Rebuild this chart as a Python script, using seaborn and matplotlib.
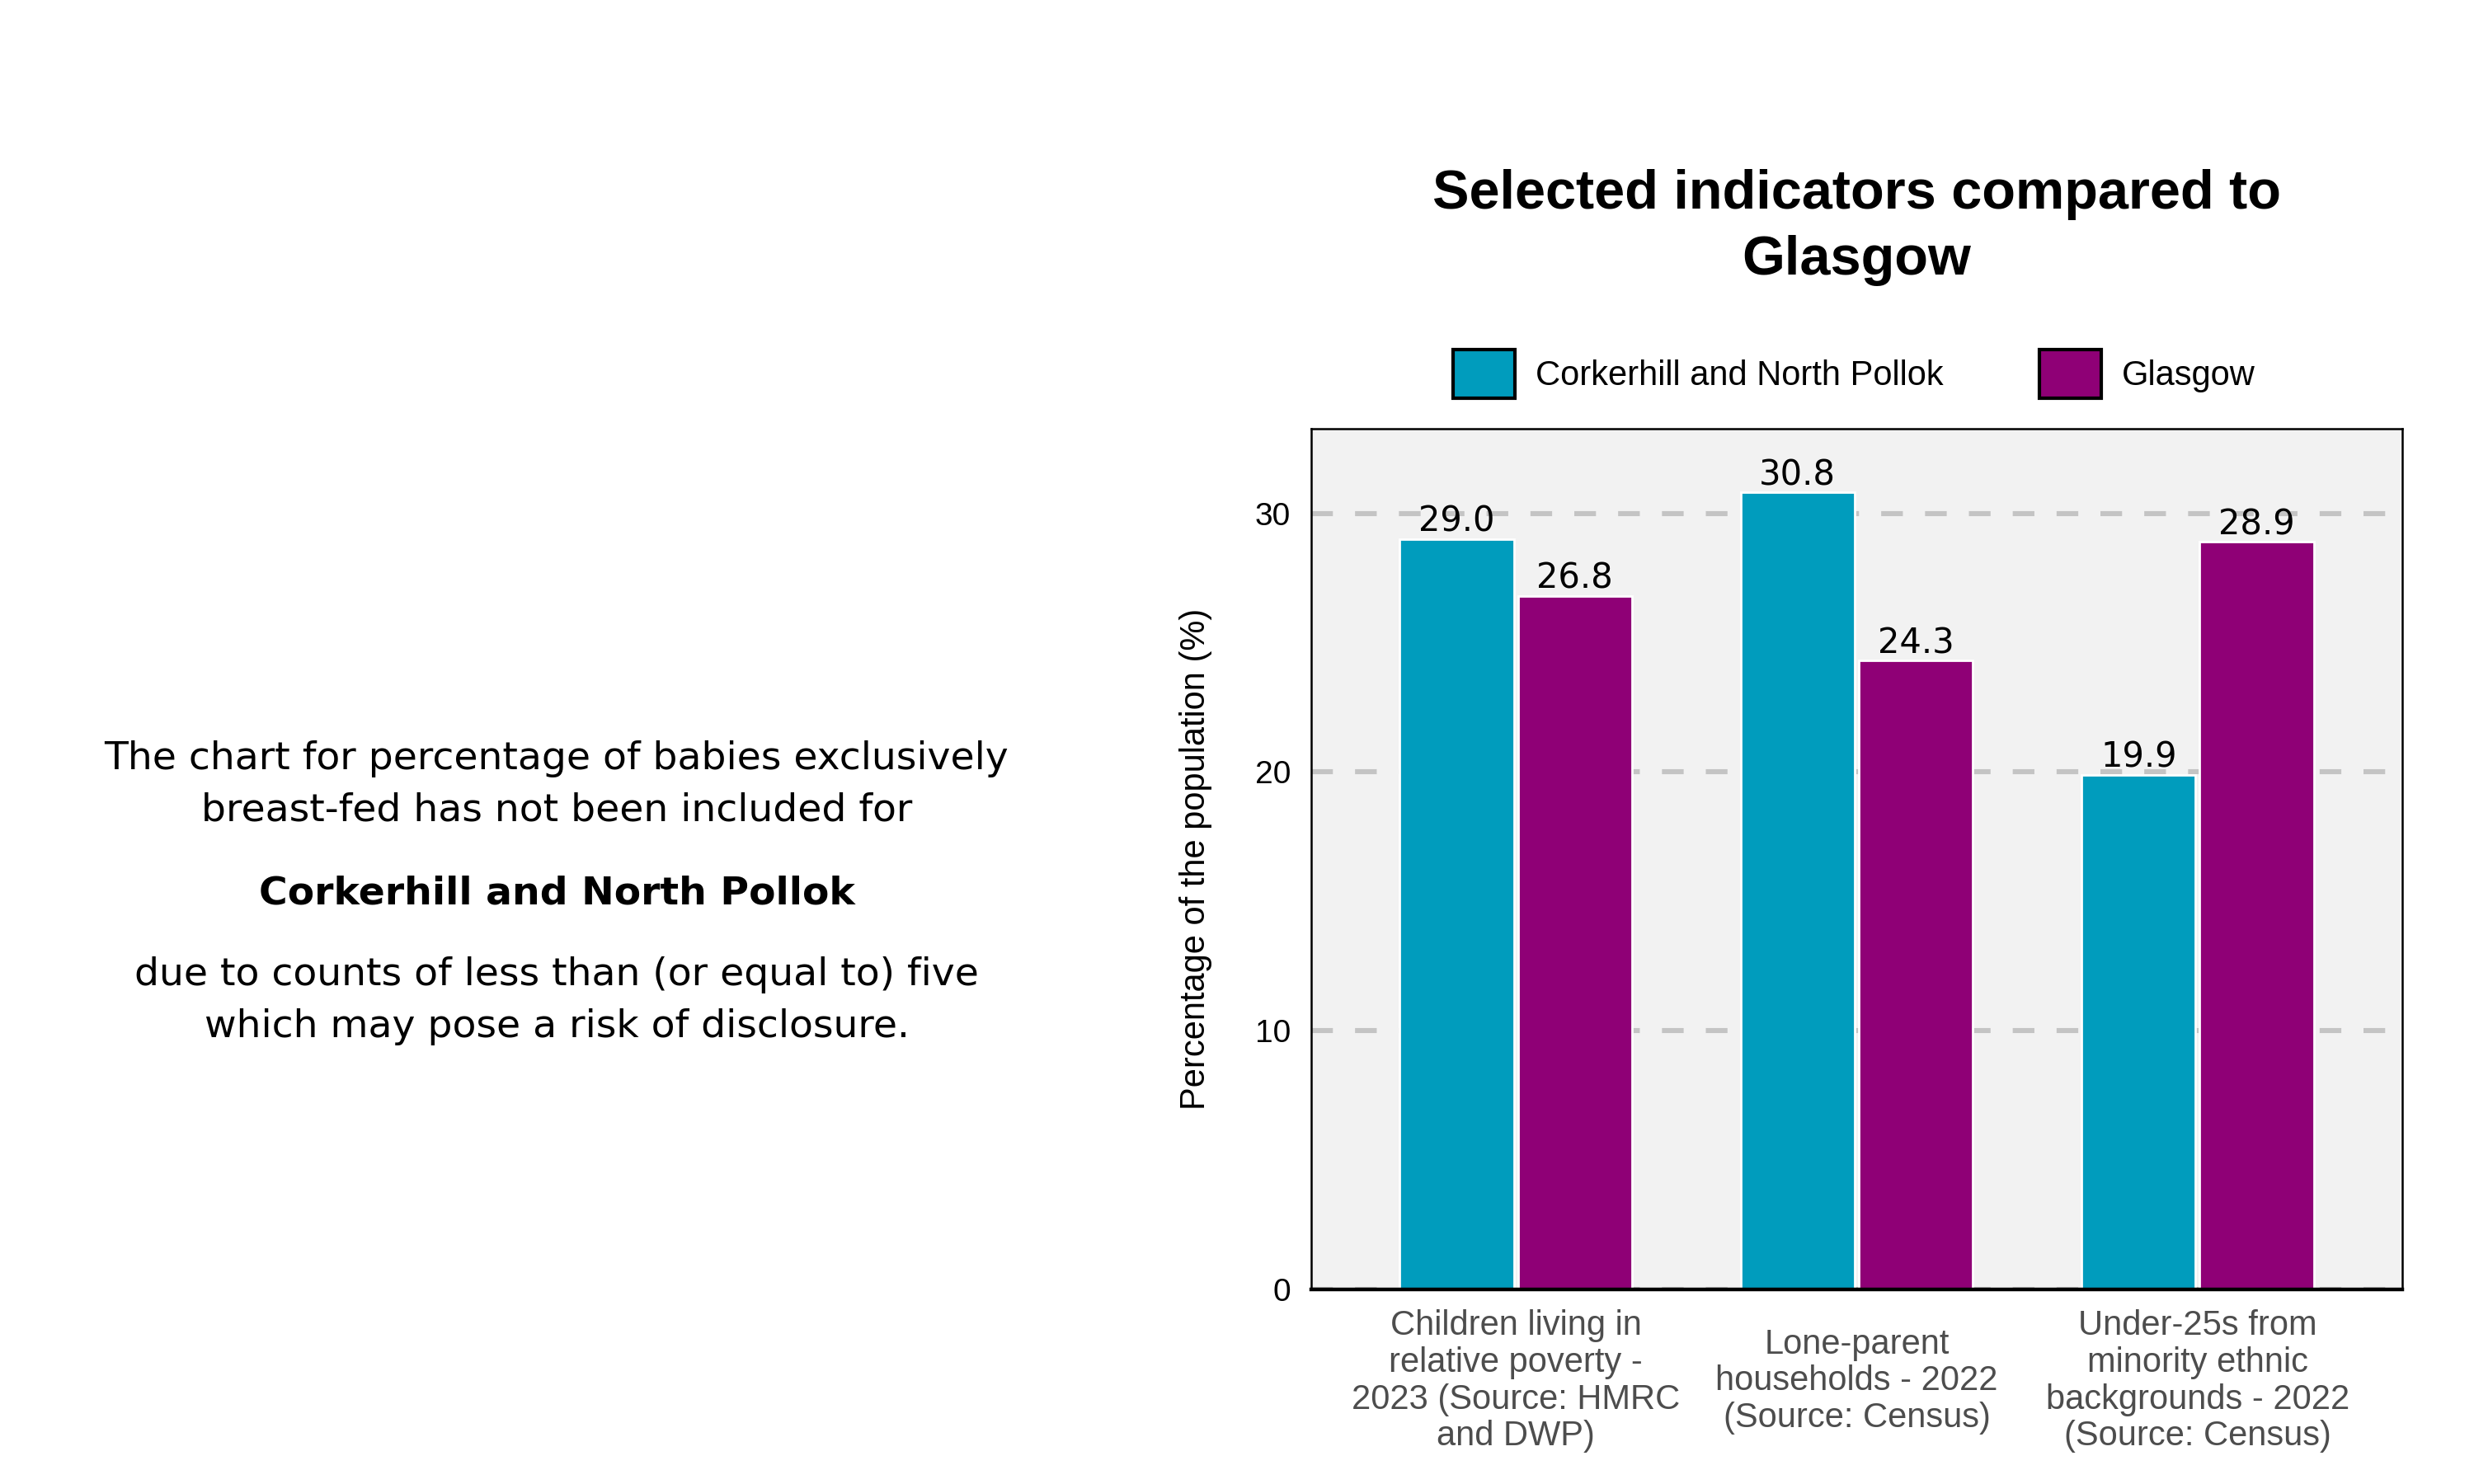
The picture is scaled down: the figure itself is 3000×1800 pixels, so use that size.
import numpy as np
import pandas as pd
import seaborn as sns
import matplotlib
matplotlib.use("Agg")
import matplotlib.pyplot as plt
from matplotlib.patches import Patch

# ---- data ----
categories = [
    "Children living in\nrelative poverty -\n2023 (Source: HMRC\nand DWP)",
    "Lone-parent\nhouseholds - 2022\n(Source: Census)",
    "Under-25s from\nminority ethnic\nbackgrounds - 2022\n(Source: Census)",
]
area_name = "Corkerhill and North Pollok"
comparator_name = "Glasgow"
area_values = [29.0, 30.8, 19.9]
comparator_values = [26.8, 24.3, 28.9]
y_ticks = [0, 10, 20, 30]
colours = ["#009CBD", "#8F0076"]

title_text = "Selected indicators compared to\nGlasgow"
y_label = "Percentage of the population (%)"
note_top = "The chart for percentage of babies exclusively\nbreast-fed has not been included for"
note_bold = "Corkerhill and North Pollok"
note_bottom = "due to counts of less than (or equal to) five\nwhich may pose a risk of disclosure."

df = pd.DataFrame({
    "Indicator": categories * 2,
    "Area": [area_name] * len(categories) + [comparator_name] * len(categories),
    "Value": area_values + comparator_values,
})

sns.set_theme(style="white")
plt.rcParams["font.family"] = ["Liberation Sans", "DejaVu Sans"]
plt.rcParams["text.color"] = "black"
plt.rcParams["axes.labelcolor"] = "black"

fig = plt.figure(figsize=(15, 9), dpi=200)
ax = fig.add_axes([0.530, 0.131, 0.441, 0.580])
ax.set_facecolor("#F2F2F2")

sns.barplot(
    data=df, x="Indicator", y="Value", hue="Area",
    hue_order=[area_name, comparator_name], palette=colours,
    width=0.694, gap=0.035, saturation=1, legend=False, ax=ax, zorder=2,
)

ax.set_axisbelow(True)
ax.yaxis.grid(True, color="#C4C4C4", linewidth=2.2, linestyle=(0, (4.3, 4.4)))
ax.xaxis.grid(False)

for cont in ax.containers:
    ax.bar_label(cont, fmt="%.1f", padding=0, fontsize=15,
                 family="DejaVu Sans", color="black")

ax.set_ylim(0, 33.26)
ax.set_xlim(-0.6, 2.6)
ax.set_yticks(y_ticks)
ax.tick_params(axis="y", length=0, pad=9, labelsize=14, labelcolor="black")
ax.tick_params(axis="x", length=0, pad=40, labelsize=15, labelcolor="#4D4D4D")
for lbl in ax.get_xticklabels():
    lbl.set_verticalalignment("center")
    lbl.set_linespacing(1.15)

ax.set_xlabel("")
ax.set_ylabel(y_label, fontsize=15, color="black")
ax.yaxis.set_label_coords(-0.091, 0.5)

for side, sp in ax.spines.items():
    sp.set_visible(True)
    sp.set_color("black")
    sp.set_linewidth(0.9)
ax.spines["bottom"].set_linewidth(1.6)

handles = [
    Patch(facecolor=colours[0], edgecolor="black", linewidth=1.5, label=area_name),
    Patch(facecolor=colours[1], edgecolor="black", linewidth=1.5, label=comparator_name),
]
fig.legend(handles=handles, loc="center", bbox_to_anchor=(0.7495, 0.748),
           ncol=2, frameon=False, fontsize=15, handlelength=1.8,
           handleheight=1.8, handletextpad=0.6, columnspacing=2.8)

fig.text(0.7505, 0.8465, title_text, ha="center", va="center",
         fontsize=24, fontweight="bold", linespacing=1.38, color="black")

fig.text(0.225, 0.471, note_top, ha="center", va="center", fontsize=17,
         family="DejaVu Sans", linespacing=1.5, color="black")
fig.text(0.225, 0.398, note_bold, ha="center", va="center", fontsize=17,
         family="DejaVu Sans", fontweight="bold", color="black")
fig.text(0.225, 0.3256, note_bottom, ha="center", va="center", fontsize=17,
         family="DejaVu Sans", linespacing=1.5, color="black")

fig.savefig("out.png", dpi=200)
